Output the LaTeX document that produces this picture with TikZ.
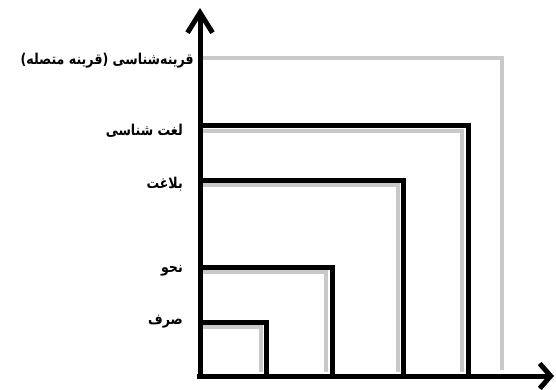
\documentclass[tikz,border=0pt]{standalone}
\usepackage{fontspec}
\usetikzlibrary{arrows.meta}
\TeXXeTstate=1
\newfontfamily\arabicfont[Script=Arabic]{DejaVu Sans}
\tikzset{
  blk/.style={line width=5pt, black},
  gry/.style={line width=4pt, draw=black!21},
  lbl/.style={anchor=east, inner sep=0pt, font=\arabicfont\bfseries\fontsize{13}{15}\selectfont},
}
\begin{document}
\begin{tikzpicture}[x=1pt,y=-1pt]
\useasboundingbox (0,0) rectangle (556,390);
\coordinate (O) at (200,376);
\coordinate (ytip) at (200,8);
\coordinate (xtip) at (554,376);
% gray shadows
\draw[gry] (200,58) -- (502,58) -- (502,370);
\draw[gry] (200,131) -- (462,131) -- (462,372);
\draw[gry] (200,185) -- (398,185) -- (398,372);
\draw[gry] (200,272) -- (326,272) -- (326,372);
\draw[gry] (200,327) -- (261,327) -- (261,372);
% black boxes
\draw[blk] (200,125.5) -- (468,125.5) -- (468,376);
\draw[blk] (200,180) -- (403,180) -- (403,376);
\draw[blk] (200,267) -- (332,267) -- (332,376);
\draw[blk] (200,322) -- (266,322) -- (266,376);
% axes
\draw[blk, -{Straight Barb[length=20pt,width=25pt]}] (O) -- (ytip);
\draw[blk, -{Straight Barb[length=11pt,width=25pt]}] (197,376) -- (xtip);
% labels
\node[lbl] (l1) at (194,61) {\scalebox{0.97}[1.15]{\beginR قرینه‌شناسی (قرینه متصله)\endR}};
\node[lbl] (l2) at (183,131) {\scalebox{0.97}[1.15]{\beginR لغت شناسی\endR}};
\node[lbl] (l3) at (183,184) {\scalebox{0.97}[1.15]{\beginR بلاغت\endR}};
\node[lbl] (l4) at (183,271) {\scalebox{0.97}[1.15]{\beginR نحو\endR}};
\node[lbl] (l5) at (183,322) {\scalebox{0.97}[1.15]{\beginR صرف\endR}};
\end{tikzpicture}
\end{document}
